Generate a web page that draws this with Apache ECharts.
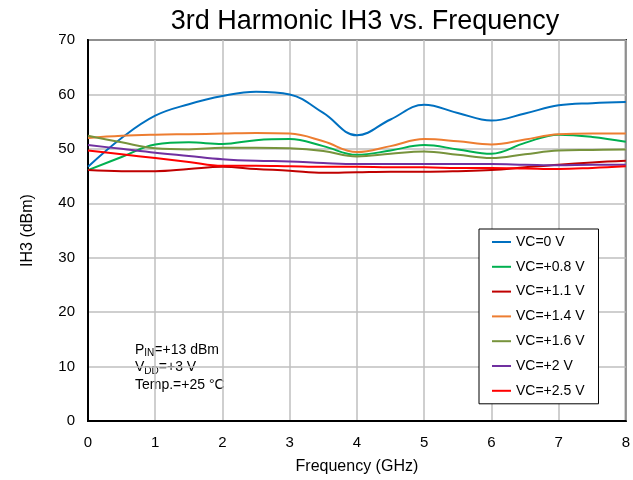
<!DOCTYPE html>
<html>
<head>
<meta charset="utf-8">
<script src="https://cdn.jsdelivr.net/npm/echarts@6/dist/echarts.min.js"></script>
<style>
  body { margin: 0; background: #fff; }
  #chart { width: 633px; height: 480px; }
</style>
</head>
<body>
<div id="chart"></div>
<script>
// frequency points (GHz)
const freq = [0, 0.5, 1, 1.5, 2, 2.5, 3, 3.5, 4, 4.5, 5, 5.5, 6, 6.5, 7, 7.5, 8];

// IH3 (dBm) per control voltage
const vc0   = [46.7, 52.0, 56.1, 58.2, 59.7, 60.5, 60.0, 56.6, 52.5, 55.4, 58.1, 56.6, 55.2, 56.5, 58.0, 58.4, 58.6];
const vc0p8 = [46.1, 48.5, 50.8, 51.2, 50.9, 51.6, 51.8, 50.5, 48.9, 49.7, 50.7, 49.9, 49.1, 51.1, 52.6, 52.2, 51.3];
const vc1p1 = [46.1, 45.9, 45.9, 46.3, 46.7, 46.3, 46.0, 45.6, 45.7, 45.8, 45.8, 45.9, 46.1, 46.6, 47.1, 47.5, 47.8];
const vc1p4 = [52.0, 52.4, 52.6, 52.7, 52.8, 52.9, 52.8, 51.4, 49.4, 50.5, 51.8, 51.4, 50.8, 51.7, 52.7, 52.8, 52.8];
const vc1p6 = [52.4, 51.2, 50.1, 49.9, 50.2, 50.2, 50.1, 49.6, 48.6, 49.1, 49.5, 48.9, 48.3, 49.0, 49.7, 49.8, 49.9];
const vc2   = [50.7, 50.0, 49.3, 48.7, 48.1, 47.8, 47.7, 47.4, 47.2, 47.2, 47.2, 47.2, 47.2, 47.1, 47.0, 47.1, 47.1];
const vc2p5 = [49.7, 49.0, 48.3, 47.6, 46.9, 46.9, 46.8, 46.7, 46.7, 46.6, 46.6, 46.5, 46.5, 46.4, 46.3, 46.5, 46.8];

const seriesNames = ['VC=0 V', 'VC=+0.8 V', 'VC=+1.1 V', 'VC=+1.4 V', 'VC=+1.6 V', 'VC=+2 V', 'VC=+2.5 V'];
const seriesData = [vc0, vc0p8, vc1p1, vc1p4, vc1p6, vc2, vc2p5];
const colors = ['#0070C0', '#00B050', '#C00000', '#ED7D31', '#77933C', '#7030A0', '#FF0000'];

const font = '"Liberation Sans", Arial, sans-serif';

const myChart = echarts.init(document.getElementById('chart'));

const option = {
  animation: false,
  title: {
    text: '3rd Harmonic IH3 vs. Frequency',
    left: 360,
    textAlign: 'center',
    top: 3,
    textStyle: { fontFamily: font, fontSize: 27, fontWeight: 'normal', color: '#000' }
  },
  grid: {
    left: 88, right: 4, top: 40, bottom: 59,
    show: true, borderColor: '#000', borderWidth: 2
  },
  legend: {
    orient: 'vertical',
    left: 479, top: 229,
    padding: [6, 14, 6, 13],
    icon: 'rect',
    itemWidth: 19, itemHeight: 2, itemGap: 10.8,
    backgroundColor: '#fff', borderColor: '#000', borderWidth: 1,
    textStyle: { fontFamily: font, fontSize: 14, color: '#000', lineHeight: 14 },
    data: seriesNames
  },
  xAxis: {
    type: 'value', min: 0, max: 8, interval: 1,
    name: 'Frequency (GHz)', nameLocation: 'middle', nameGap: 38,
    nameTextStyle: { fontFamily: font, fontSize: 16, color: '#000' },
    axisLine: { lineStyle: { color: '#000', width: 2 } },
    axisTick: { show: false },
    axisLabel: { fontFamily: font, fontSize: 15, color: '#000', margin: 14 },
    splitLine: { lineStyle: { color: '#BFBFBF', width: 1.5 } }
  },
  yAxis: {
    type: 'value', min: 0, max: 70, interval: 10,
    name: 'IH3 (dBm)', nameLocation: 'middle', nameGap: 52,
    nameTextStyle: { fontFamily: font, fontSize: 16, color: '#000' },
    axisLine: { show: true, lineStyle: { color: '#000', width: 2 } },
    axisTick: { show: false },
    axisLabel: { fontFamily: font, fontSize: 15, color: '#000', margin: 13 },
    splitLine: { lineStyle: { color: '#BFBFBF', width: 1.5 } }
  },
  graphic: [{
    type: 'group',
    left: 129, top: 335,
    children: [{
      type: 'rect',
      shape: { x: 0, y: 0, width: 119, height: 62 },
      style: { fill: '#fff' }
    }, {
      type: 'text',
      x: 6, y: 6,
      style: {
        text: 'P{sub|IN}=+13 dBm\nV{sub|DD}=+3 V\nTemp.=+25 °C',
        fontFamily: font, fontSize: 14, lineHeight: 17.5, fill: '#000',
        rich: {
          sub: { fontFamily: font, fontSize: 10, lineHeight: 10, verticalAlign: 'bottom' }
        }
      }
    }]
  }],
  series: seriesData.map((vals, i) => ({
    name: seriesNames[i],
    type: 'line',
    smooth: 0.4,
    symbol: 'none',
    color: colors[i],
    lineStyle: { width: 2, color: colors[i] },
    data: vals.map((v, j) => [freq[j], v])
  }))
};

myChart.setOption(option);
</script>
</body>
</html>
